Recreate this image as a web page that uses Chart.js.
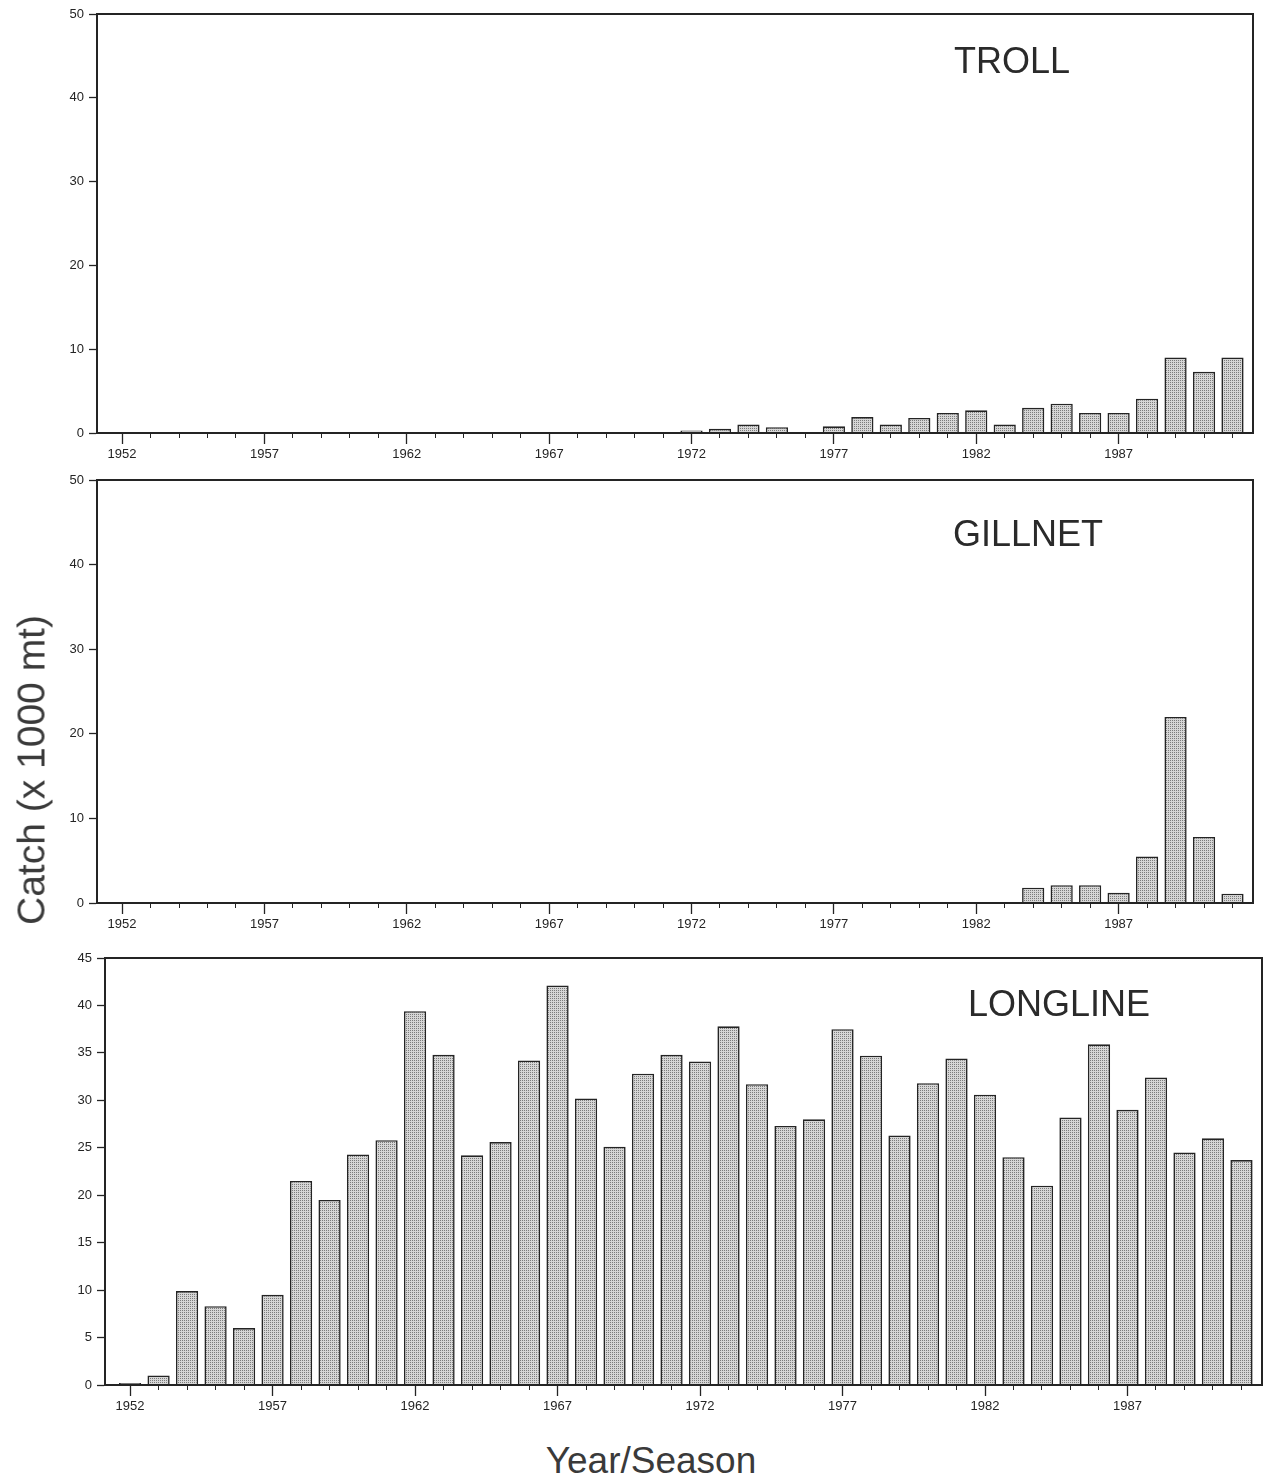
<!DOCTYPE html>
<html>
<head>
<meta charset="utf-8">
<title>Catch by gear</title>
<script src="https://cdn.jsdelivr.net/npm/chart.js@4.4.1/dist/chart.umd.min.js"></script>
<style>
  body { margin: 0; background: #fff; width: 1263px; height: 1483px; position: relative; overflow: hidden;
         font-family: 'Liberation Sans', Arial, sans-serif; color: #2a2a2a; }
  canvas { position: absolute; left: 0; }
  .label { position: absolute; white-space: nowrap; line-height: 1; transform: translate(-50%, -50%); }
  .gear  { font-size: 36px; }
  .axis-title { font-size: 37px; color: #3a3a3a; }
  #ytitle { font-size: 39px; transform: translate(-50%, -50%) rotate(-90deg); }
</style>
</head>
<body>

<canvas id="troll"    width="1263" height="470" style="top:0px"></canvas>
<canvas id="gillnet"  width="1263" height="474" style="top:466px"></canvas>
<canvas id="longline" width="1263" height="478" style="top:944px"></canvas>

<div class="label gear" style="left:1012px; top:61px">TROLL</div>
<div class="label gear" style="left:1028px; top:534px">GILLNET</div>
<div class="label gear" style="left:1059px; top:1004px">LONGLINE</div>
<div class="label axis-title" id="ytitle" style="left:31px; top:770px">Catch (x 1000 mt)</div>
<div class="label axis-title" style="left:651px; top:1460px">Year/Season</div>

<script>
// Years on the x axis (one bar per year/season)
const YEARS = [
  1952, 1953, 1954, 1955, 1956, 1957, 1958, 1959, 1960, 1961,
  1962, 1963, 1964, 1965, 1966, 1967, 1968, 1969, 1970, 1971,
  1972, 1973, 1974, 1975, 1976, 1977, 1978, 1979, 1980, 1981,
  1982, 1983, 1984, 1985, 1986, 1987, 1988, 1989, 1990, 1991,
];
// Years that get a long tick and a label
const TICK_YEARS = [1952, 1957, 1962, 1967, 1972, 1977, 1982, 1987];

// Catch, thousands of metric tons (null = no catch recorded)
const TROLL = [
  null, null, null, null, null, null, null, null, null, null,
  null, null, null, null, null, null, null, null, null, null,
  0.3, 0.5, 1.0, 0.7, null, 0.8, 1.9, 1.0, 1.8, 2.4,
  2.7, 1.0, 3.0, 3.5, 2.4, 2.4, 4.1, 9.0, 7.3, 9.0,
];
const GILLNET = [
  null, null, null, null, null, null, null, null, null, null,
  null, null, null, null, null, null, null, null, null, null,
  null, null, null, null, null, null, null, null, null, null,
  null, null, 1.8, 2.1, 2.1, 1.2, 5.5, 22.0, 7.8, 1.1,
];
const LONGLINE = [
  0.2, 1.0, 9.9, 8.3, 6.0, 9.5, 21.5, 19.5, 24.3, 25.8,
  39.4, 34.8, 24.2, 25.6, 34.2, 42.1, 30.2, 25.1, 32.8, 34.8,
  34.1, 37.8, 31.7, 27.3, 28.0, 37.5, 34.7, 26.3, 31.8, 34.4,
  30.6, 24.0, 21.0, 28.2, 35.9, 29.0, 32.4, 24.5, 26.0, 23.7,
];

const INK = '#242424';

// grey stipple, like the dot screen of the printed figure
function stipple() {
  const c = document.createElement('canvas');
  c.width = 2; c.height = 2;
  const g = c.getContext('2d');
  g.fillStyle = '#d6d6d6';
  g.fillRect(0, 0, 2, 2);
  g.fillStyle = '#7c7c7c';
  g.fillRect(0, 0, 1, 1);
  return g.createPattern(c, 'repeat');
}

// closed box around the plot area
const frame = {
  id: 'frame',
  afterDraw(chart) {
    const { ctx, chartArea: a } = chart;
    ctx.save();
    ctx.strokeStyle = INK;
    ctx.lineWidth = 2;
    ctx.strokeRect(a.left, a.top, a.width, a.height);
    ctx.restore();
  },
};

function panel(id, values, yMax, yStep, yWidth, padRight) {
  const X_MIN = 1951.12, X_MAX = 1991.72;
  const tickFont = { family: "'Liberation Sans', Arial, sans-serif", size: 13 };

  return new Chart(document.getElementById(id), {
    type: 'bar',
    data: {
      datasets: [{
        data: YEARS.map((yr, i) => ({ x: yr, y: values[i] })),
        xAxisID: 'x',
        yAxisID: 'y',
        backgroundColor: stipple(),
        borderColor: INK,
        borderWidth: 1.6,
        barPercentage: 0.78,
        categoryPercentage: 1,
      }],
    },
    plugins: [frame],
    options: {
      responsive: false,
      animation: false,
      events: [],
      layout: { padding: { top: 14, right: padRight, left: 0, bottom: 0 } },
      plugins: { legend: { display: false }, tooltip: { enabled: false } },
      scales: {
        x: {
          type: 'linear',
          min: X_MIN, max: X_MAX,
          offset: false,
          afterBuildTicks: s => { s.ticks = TICK_YEARS.map(v => ({ value: v })); },
          afterFit: s => { s.height = 37; },
          grid:   { drawOnChartArea: false, offset: false, tickLength: 11, tickColor: INK, tickWidth: 1.3 },
          border: { color: INK, width: 2 },
          ticks:  { autoSkip: false, maxRotation: 0, padding: 3, color: INK, font: tickFont,
                    callback: v => String(v) },
        },
        // short minor ticks for every year, hung on the zero line
        xm: {
          axis: 'x',
          type: 'linear',
          position: { y: 0 },
          min: X_MIN, max: X_MAX,
          offset: false,
          afterBuildTicks: s => { s.ticks = YEARS.map(v => ({ value: v })); },
          afterFit: s => { s.height = 0; },
          grid:   { drawOnChartArea: false, offset: false, tickLength: 5, tickColor: INK, tickWidth: 1 },
          border: { display: false },
          ticks:  { display: false },
        },
        y: {
          min: 0, max: yMax,
          afterFit: s => { s.width = yWidth; },
          grid:   { drawOnChartArea: false, tickLength: 8, tickColor: INK, tickWidth: 1.3 },
          border: { color: INK, width: 2 },
          ticks:  { stepSize: yStep, padding: 5, color: INK, font: tickFont },
        },
      },
    },
  });
}

panel('troll',    TROLL,    50, 10, 97, 10);
panel('gillnet',  GILLNET,  50, 10, 97, 10);
panel('longline', LONGLINE, 45, 5, 105, 1);
</script>
</body>
</html>
